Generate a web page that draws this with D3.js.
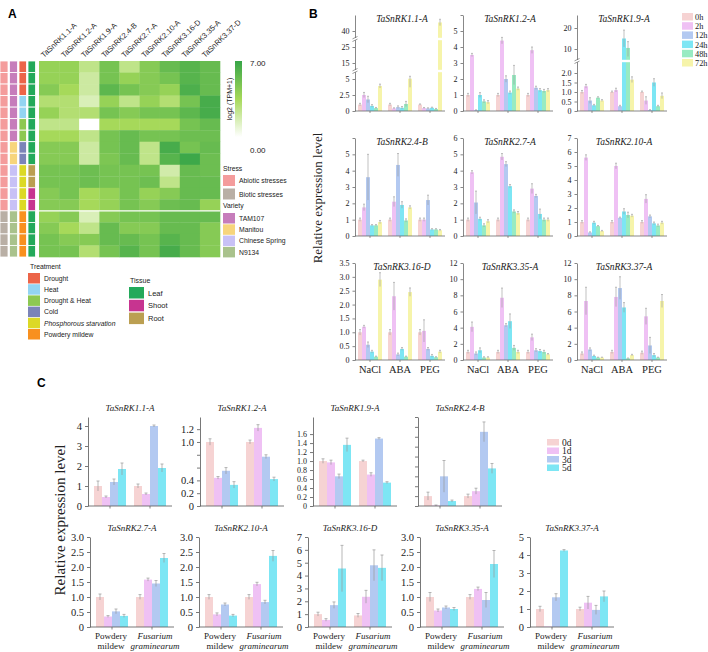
<!DOCTYPE html>
<html><head><meta charset="utf-8">
<script src="https://cdn.jsdelivr.net/npm/d3@7"></script>
<style>body{margin:0;background:#fff}svg{display:block}</style>
</head><body><script>
// ================= DATA =================
// Panel A heatmap
const heatGenes = ["TaSnRK1.1-A","TaSnRK1.2-A","TaSnRK1.9-A","TaSnRK2.4-B","TaSnRK2.7-A","TaSnRK2.10-A","TaSnRK3.16-D","TaSnRK3.35-A","TaSnRK3.37-D"];
const heatValues = [
  [4.0,4.0,2.5,5.0,2.5,4.5,5.5,6.0,5.5],
  [4.0,4.0,2.0,5.0,4.0,4.5,5.0,6.0,5.5],
  [4.5,3.5,2.0,5.8,5.0,4.5,4.0,6.3,5.5],
  [3.0,3.0,1.5,4.0,2.5,4.0,3.0,5.0,6.5],
  [4.0,3.0,3.0,5.0,4.5,5.0,5.0,5.8,6.5],
  [2.5,2.5,0.0,3.5,3.5,3.5,3.5,5.0,5.5],
  [3.5,3.5,2.5,5.0,5.5,5.0,5.0,5.3,5.3],
  [4.5,4.5,2.0,5.0,5.5,2.5,6.5,5.0,5.5],
  [4.5,4.5,2.0,4.8,5.5,2.5,6.0,6.8,5.3],
  [5.0,5.0,5.3,5.0,5.0,5.0,1.8,5.5,5.3],
  [5.0,5.0,5.3,5.0,5.0,5.3,2.5,5.5,5.5],
  [4.5,5.0,3.5,4.0,5.0,4.0,4.5,5.5,5.5],
  [4.5,4.5,3.5,4.0,5.0,4.5,5.3,5.5,4.0],
  [4.0,4.5,1.5,4.5,5.0,5.0,5.5,5.5,5.5],
  [4.5,3.5,2.5,5.5,4.5,4.5,5.5,5.5,4.5],
  [5.0,4.5,4.5,5.5,5.5,5.0,6.0,5.5,4.5],
  [5.0,5.0,3.0,5.0,6.0,5.0,6.5,5.5,4.5]
];
const rowStress = ["Abiotic stresses","Abiotic stresses","Abiotic stresses","Abiotic stresses","Abiotic stresses","Abiotic stresses","Abiotic stresses","Abiotic stresses","Abiotic stresses","Abiotic stresses","Abiotic stresses","Abiotic stresses","Abiotic stresses","Biotic stresses","Biotic stresses","Biotic stresses","Biotic stresses"];
const rowVariety = ["TAM107","TAM107","TAM107","TAM107","TAM107","TAM107","TAM107","Manitou","Manitou","Chinese Spring","Chinese Spring","Chinese Spring","Chinese Spring","N9134","N9134","N9134","N9134"];
const rowTreatment = ["Drought","Drought","Drought","Heat","Heat","Drought & Heat","Drought & Heat","Cold","Cold","Phosphorous starvation","Phosphorous starvation","Phosphorous starvation","Phosphorous starvation","Powdery mildew","Powdery mildew","Powdery mildew","Powdery mildew"];
const rowTissue = ["Leaf","Leaf","Leaf","Leaf","Leaf","Leaf","Leaf","Leaf","Leaf","Root","Root","Shoot","Shoot","Leaf","Leaf","Leaf","Leaf"];
const stressNames = ["Abiotic stresses","Biotic stresses"];
const stressColors = ["#f49c9c","#b9afa5"];
const varietyNames = ["TAM107","Manitou","Chinese Spring","N9134"];
const varietyColors = ["#c67dbb","#f7d57c","#c8c1f6","#a9c28c"];
const treatmentNames = ["Drought","Heat","Drought & Heat","Cold","Phosphorous starvation","Powdery mildew"];
const treatmentColors = ["#ec6448","#93d4f2","#8dc852","#7b84b8","#dcd926","#f8901f"];
const tissueNames = ["Leaf","Shoot","Root"];
const tissueColors = ["#23a95a","#c73490","#bb9f52"];
const heatMin = 0, heatMax = 7;

// Panel B qRT-PCR (abiotic)
const bGenes = ["TaSnRK1.1-A","TaSnRK1.2-A","TaSnRK1.9-A","TaSnRK2.4-B","TaSnRK2.7-A","TaSnRK2.10-A","TaSnRK3.16-D","TaSnRK3.35-A","TaSnRK3.37-A"];
const bConditions = ["NaCl","ABA","PEG"];
const bTimes = ["0h","2h","12h","24h","48h","72h"];
const bValues = [
  [[1.0,2.5,1.8,0.8,0.45,3.9],[1.0,0.4,0.6,0.5,1.1,5.2],[1.0,0.45,0.4,0.5,0.3,48]],
  [[1.0,3.5,0.05,1.0,0.6,0.55],[1.0,4.4,2.0,1.15,2.25,1.4],[1.0,3.8,1.45,1.3,1.25,1.3]],
  [[1.0,1.3,0.55,0.3,0.7,0.55],[1.0,1.1,0.25,15,10.5,1.65],[1.0,0.55,0.05,1.5,0.25,0.8]],
  [[1.0,1.75,3.6,0.65,0.65,0.85],[1.0,2.1,4.35,1.9,0.95,1.75],[1.0,1.0,2.2,0.4,0.4,0.35]],
  [[1.0,3.9,2.05,1.05,0.65,0.9],[1.0,4.85,4.4,3.05,1.5,1.4],[1.0,2.9,2.45,1.35,1.0,1.0]],
  [[1.0,5.6,0.25,0.95,0.7,0.35],[1.0,5.0,1.3,1.75,1.5,1.45],[1.0,2.65,1.4,0.9,0.75,0.95]],
  [[1.0,1.2,0.55,0.3,0.12,2.9],[1.0,2.3,0.2,0.4,0.12,2.45],[1.0,1.05,0.4,0.15,0.1,0.3]],
  [[1.0,4.1,0.8,1.2,0.3,0.3],[1.0,7.7,4.3,4.8,1.5,1.0],[1.0,2.8,1.2,1.1,1.0,0.7]],
  [[0.8,7.3,1.3,0.5,0.3,0.3],[1.0,7.8,8.9,6.5,0.2,0.6],[0.9,5.4,1.8,0.6,0.3,7.3]]
];
const bErrors = [
  [[0.2,0.4,0.5,0.2,0.1,0.3],[0.2,0.1,0.2,0.2,0.4,1.5],[0.1,0.1,0.1,0.1,0.1,3]],
  [[0.1,0.1,0.02,0.15,0.1,0.1],[0.1,0.2,0.2,0.1,0.6,0.1],[0.1,0.2,0.1,0.1,0.1,0.1]],
  [[0.08,0.1,0.15,0.05,0.05,0.05],[0.05,0.1,0.05,4,3,0.15],[0.05,0.2,0.02,0.2,0.05,0.15]],
  [[0.1,0.2,1.4,0.05,0.05,0.1],[0.1,0.3,0.7,0.2,0.1,0.1],[0.1,0.1,0.3,0.05,0.05,0.05]],
  [[0.1,0.1,0.7,0.1,0.1,0.1],[0.1,0.2,0.15,0.1,0.1,0.1],[0.1,0.3,0.1,0.3,0.1,0.1]],
  [[0.1,0.2,0.05,0.1,0.05,0.05],[0.1,0.2,0.05,0.2,0.2,0.1],[0.1,0.3,0.1,0.1,0.1,0.1]],
  [[0.1,0.05,0.1,0.05,0.02,0.25],[0.1,0.5,0.05,0.05,0.02,0.15],[0.1,0.4,0.05,0.05,0.02,0.05]],
  [[0.2,0.6,0.2,0.3,0.1,0.1],[0.2,1.2,0.2,0.9,0.3,0.2],[0.2,0.4,0.2,0.2,0.2,0.1]],
  [[0.2,1.7,0.2,0.1,0.05,0.05],[0.2,1.2,1.4,0.6,0.05,0.1],[0.2,1.0,1.0,0.2,0.05,0.8]]
];
const bTickValues = [
  [0,2.5,5,15,25,40],[0,1,2,3,4,5],[0,0.5,1,1.5,2,10,20],
  [0,1,2,3,4,5],[0,1,2,3,4,5,6],[0,1,2,3,4,5,6,7],
  [0,0.5,1,1.5,2,2.5,3,3.5],[0,2,4,6,8,10,12],[0,2,4,6,8,10,12]
];
const bTickLabels = [
  ["0","2.5","5","15","25","40"],["0","1","2","3","4","5"],["0","0.5","1.0","1.5","2.0","10","20"],
  ["0","1","2","3","4","5"],["0","1","2","3","4","5","6"],["0","1","2","3","4","5","6","7"],
  ["0","0.5","1.0","1.5","2.0","2.5","3.0","3.5"],["0","2","4","6","8","10","12"],["0","2","4","6","8","10","12"]
];
const bAxisMax = [55,6,26,6,6,7,3.5,12,12];
const bBreaks = [[10,32.5],[],[6]];   // values (in piecewise domain) where axis is broken

// Panel C qRT-PCR (biotic)
const cGenes = ["TaSnRK1.1-A","TaSnRK1.2-A","TaSnRK1.9-A","TaSnRK2.4-B","TaSnRK2.7-A","TaSnRK2.10-A","TaSnRK3.16-D","TaSnRK3.35-A","TaSnRK3.37-A"];
const cPathogens = ["Powdery mildew","Fusarium graminearum"];
const cDays = ["0d","1d","3d","5d"];
const cValues = [
  [[1.0,0.45,1.2,1.85],[1.0,0.6,4.0,1.9]],
  [[1.0,0.44,0.55,0.33],[1.0,1.22,0.77,0.42]],
  [[1.0,0.97,0.66,1.36],[1.0,0.7,1.5,0.52]],
  [[1.0,0.05,3.0,0.5],[1.0,1.5,7.5,3.8]],
  [[1.0,0.35,0.52,0.37],[1.0,1.58,1.45,2.3]],
  [[1.0,0.42,0.75,0.38],[1.0,1.43,0.83,2.37]],
  [[1.0,0.55,1.7,4.55],[0.9,2.35,4.8,4.6]],
  [[1.0,0.55,0.65,0.6],[1.0,1.27,0.9,2.1]],
  [[1.0,0.03,1.65,4.25],[1.0,1.35,0.95,1.7]]
];
const cErrors = [
  [[0.25,0.05,0.15,0.3],[0.1,0.05,0.05,0.2]],
  [[0.05,0.02,0.05,0.05],[0.03,0.05,0.03,0.03]],
  [[0.05,0.05,0.05,0.15],[0.02,0.04,0.02,0.02]],
  [[0.4,0.05,1.6,0.1],[0.2,0.3,1.0,0.5]],
  [[0.1,0.03,0.08,0.05],[0.08,0.05,0.1,0.15]],
  [[0.08,0.05,0.05,0.04],[0.08,0.06,0.06,0.18]],
  [[0.15,0.1,0.25,1.8],[0.15,0.5,1.2,1.0]],
  [[0.15,0.05,0.05,0.05],[0.08,0.06,0.25,0.45]],
  [[0.15,0,0.2,0.05],[0.1,0.35,0.25,0.3]]
];
const cTickValues = [
  [0,1,2,3,4],[0,0.2,0.4,0.6,0.8,1.0,1.2],[0,0.2,0.4,0.6,0.8,1.0,1.2,1.4,1.6],
  [0,1,2,3,4,5,6,7,8,9],[0,0.5,1,1.5,2,2.5,3],[0,0.5,1,1.5,2,2.5,3],
  [0,1,2,3,4,5,6,7],[0,0.5,1,1.5,2,2.5,3],[0,1,2,3,4,5]
];
const cTickLabels = [
  ["0","1","2","3","4"],["0","0.2","0.4","","","1.0","1.2"],["0","0.2","0.4","0.6","0.8","1.0","1.2","1.4","1.6"],
  ["","","","","","","","","",""],["0","0.5","1.0","1.5","2.0","2.5","3.0"],["0","0.5","1.0","1.5","2.0","2.5","3.0"],
  ["0","1","2","3","4","5","6","7"],["0","0.5","1.0","1.5","2.0","2.5","3.0"],["0","1","2","3","4","5"]
];
const cAxisMax = [4.45,1.39,1.98,9,3,3,7,3,5];

const bColors = ["#f6d3d3","#efc1f4","#b3c9f1","#7de6f4","#98ebc2","#f6f4aa"];
const cColors = ["#f6d3d3","#efc1f4","#b3c9f1","#7de6f4"];

// ================= LAYOUT / DRAW =================
const SERIF = "'Liberation Serif','Times New Roman',serif";
const SANS = "'Liberation Sans',Arial,sans-serif";
const svg = d3.select("body").append("svg").attr("width",708).attr("height",652)
  .style("font-family",SERIF);

function panelLabel(t,x,y){
  svg.append("text").attr("x",x).attr("y",y).text(t)
    .style("font-family",SANS).style("font-weight","bold").style("font-size","12px");
}
panelLabel("A",8,18); panelLabel("B",309,18); panelLabel("C",37,387);

// ---------- Panel A ----------
const A = svg.append("g").style("font-family",SANS);
const hx = d3.scaleBand().domain(heatGenes).range([39,220]);
const hy = d3.scaleBand().domain(d3.range(heatValues.length)).range([61,257]);
const hcol = d3.scaleLinear().domain([heatMin,(heatMin+heatMax)/2,heatMax]).range(["#ffffff","#a6d95a","#37a548"]);
heatValues.forEach((row,i)=>row.forEach((v,j)=>{
  A.append("rect").attr("x",hx(heatGenes[j])).attr("y",hy(i))
   .attr("width",hx.bandwidth()+0.3).attr("height",hy.bandwidth()+0.3).attr("fill",hcol(v));
}));
A.append("line").attr("x1",39).attr("x2",220).attr("y1",hy(13)).attr("y2",hy(13))
  .attr("stroke","#fff").attr("stroke-width",1.2);
heatGenes.forEach(g=>{
  const cx = hx(g)+hx.bandwidth()/2-5;
  A.append("text").attr("transform",`translate(${cx},58) rotate(-44)`)
   .text(g).style("font-size","7.6px").attr("fill","#222");
});
const annos = [
  {data:rowStress,names:stressNames,colors:stressColors,x:0,w:8},
  {data:rowVariety,names:varietyNames,colors:varietyColors,x:9.5,w:8},
  {data:rowTreatment,names:treatmentNames,colors:treatmentColors,x:19,w:7.5},
  {data:rowTissue,names:tissueNames,colors:tissueColors,x:28,w:7.5}
];
annos.forEach(a=>{
  const sc = d3.scaleOrdinal().domain(a.names).range(a.colors);
  a.data.forEach((d,i)=>{
    A.append("rect").attr("x",a.x).attr("y",hy(i)).attr("width",a.w).attr("height",hy.bandwidth())
     .attr("fill",sc(d)).attr("stroke","#fff").attr("stroke-width",0.8);
  });
});
// gradient legend
const grad = svg.append("defs").append("linearGradient").attr("id","hg")
  .attr("x1",0).attr("x2",0).attr("y1",1).attr("y2",0);
[0,0.5,1].forEach(t=>grad.append("stop").attr("offset",t).attr("stop-color",hcol(heatMin+t*(heatMax-heatMin))));
A.append("rect").attr("x",235).attr("y",61).attr("width",7).attr("height",76).attr("fill","url(#hg)");
A.append("text").attr("x",250).attr("y",66).text(heatMax.toFixed(2)).style("font-size","8px").attr("fill","#222");
A.append("text").attr("x",250).attr("y",153).text(heatMin.toFixed(2)).style("font-size","8px").attr("fill","#222");
A.append("text").attr("transform","translate(232,99) rotate(-90)").attr("text-anchor","middle")
  .text("log2 (TPM+1)").style("font-size","7px").attr("fill","#222");

function legendBlock(title,names,colors,x,ty,y0,step,sw,sh,italicIdx){
  A.append("text").attr("x",x+(title==="Treatment"?2:0)).attr("y",ty).text(title).style("font-size","6.8px").attr("fill","#222");
  names.forEach((n,i)=>{
    const y = y0+i*step;
    A.append("rect").attr("x",x).attr("y",y).attr("width",sw).attr("height",sh).attr("fill",colors[i]);
    A.append("text").attr("x",x+sw+4).attr("y",y+sh/2+2.5).text(n)
     .style("font-size","6.8px").style("font-style",i===italicIdx?"italic":"normal").attr("fill","#222");
  });
}
legendBlock("Stress",stressNames,stressColors,223,171,175,13.5,12,11,-1);
legendBlock("Variety",varietyNames,varietyColors,223,208,213,11.3,12,10.5,-1);
legendBlock("Treatment",treatmentNames,treatmentColors,28,269,273,11.2,12,10.5,4);
A.append("text").attr("x",130).attr("y",283).text("Tissue").style("font-size","7px").attr("fill","#222");
tissueNames.forEach((n,i)=>{
  const y=287+i*12.8;
  A.append("rect").attr("x",129).attr("y",y).attr("width",15).attr("height",11.5).attr("fill",tissueColors[i]);
  A.append("text").attr("x",148).attr("y",y+8.5).text(n).style("font-size","7.5px").attr("fill","#222");
});

// ---------- Panel B ----------
const bColX = [355,463,577], bW = 90;
const bRowZero = [111,236,360], bRowTop = [15,138,263];
const bDomains = [
  [0,2.5,5,15,25,40,55],[0,6],[0,0.5,1,1.5,2,10,20,26],[0,6],[0,6],[0,7],[0,3.5],[0,12],[0,12]
];
const bFracs = [
  [0,1,2,3,4,5,6].map(v=>v/6),[0,1],[0,9.5,19,28.5,38,62,83,96].map(v=>v/96),[0,1],[0,1],[0,1],[0,1],[0,1],[0,1]
];
const B = svg.append("g");
bGenes.forEach((gene,gi)=>{
  const col = gi%3, row = Math.floor(gi/3);
  const x0 = bColX[col], y0 = bRowZero[row], yT = bRowTop[row];
  const y = d3.scaleLinear().domain(bDomains[gi]).range(bFracs[gi].map(f=>y0-f*(y0-yT)));
  const xg = d3.scaleBand().domain(bConditions).range([x0,x0+bW]).paddingInner(0.2).paddingOuter(0.1);
  const xs = d3.scaleBand().domain(bTimes).range([0,xg.bandwidth()]);
  const g = B.append("g");
  bConditions.forEach((c,ci)=>{
    bTimes.forEach((t,ti)=>{
      const v = bValues[gi][ci][ti], e = bErrors[gi][ci][ti];
      const bx = xg(c)+xs(t);
      g.append("rect").attr("x",bx).attr("y",y(v)).attr("width",xs.bandwidth()).attr("height",y0-y(v)).attr("fill",bColors[ti]);
      const cx = bx+xs.bandwidth()/2;
      g.append("line").attr("x1",cx).attr("x2",cx).attr("y1",y(Math.max(0,v-e))).attr("y2",y(v+e)).attr("stroke","#999").attr("stroke-width",0.6);
      g.append("line").attr("x1",cx-1).attr("x2",cx+1).attr("y1",y(v+e)).attr("y2",y(v+e)).attr("stroke","#999").attr("stroke-width",0.6);
    });
  });
  // axis
  const labels = bTickLabels[gi];
  const ticks = bTickValues[gi].slice();
  if(bDomains[gi].length===2 && ticks[ticks.length-1]<bAxisMax[gi]) ticks.push(bAxisMax[gi]);
  const ax = d3.axisLeft(y).tickValues(ticks).tickSize(2.5).tickSizeOuter(0).tickPadding(3)
    .tickFormat((d,i)=> i<labels.length?labels[i]:"");
  const ag = g.append("g").attr("transform",`translate(${x0},0)`).call(ax);
  ag.selectAll("path,line").attr("stroke","#555").attr("stroke-width",0.7);
  ag.selectAll("text").style("font-family",SERIF).style("font-size","8px").attr("fill","#222");
  // breaks
  (bBreaks[gi]||[]).forEach(bv=>{
    const by = y(bv);
    g.append("rect").attr("x",x0-4).attr("y",by-1.2).attr("width",bW+4).attr("height",2.4).attr("fill","#fff");
    [-1.3,1.3].forEach(o=>g.append("line").attr("x1",x0-2.5).attr("x2",x0+2.5).attr("y1",by+o+1.2).attr("y2",by+o-1.2)
      .attr("stroke","#555").attr("stroke-width",0.6));
  });
  // x axis
  g.append("line").attr("x1",x0).attr("x2",x0+bW).attr("y1",y0).attr("y2",y0).attr("stroke","#555").attr("stroke-width",0.7);
  bConditions.forEach(c=>{
    const cx = xg(c)+xg.bandwidth()/2;
    g.append("line").attr("x1",cx).attr("x2",cx).attr("y1",y0).attr("y2",y0+2).attr("stroke","#555").attr("stroke-width",0.6);
    if(row===2) g.append("text").attr("x",cx).attr("y",y0+13).attr("text-anchor","middle").text(c).style("font-size","10.5px").attr("fill","#222");
  });
  g.append("text").attr("x",x0+bW/2+2).attr("y",yT+7).attr("text-anchor","middle").text(gene)
    .style("font-style","italic").style("font-size","9.5px").attr("fill","#222");
});
B.append("text").attr("transform","translate(322,198) rotate(-90)").attr("text-anchor","middle")
  .text("Relative expression level").style("font-size","13px").attr("fill","#222");
bTimes.forEach((t,i)=>{
  const y = 13+i*9.2;
  B.append("rect").attr("x",682).attr("y",y).attr("width",11).attr("height",7.5).attr("fill",bColors[i]);
  B.append("text").attr("x",695).attr("y",y+7).text(t).style("font-size","8.3px").attr("fill","#222");
});

// ---------- Panel C ----------
const cAxisX = [88,200,313,418,90,199,308,420,530], cW = 84;
const cRowZero = [506,627], cRowTop = [417,537];
const C = svg.append("g");
cGenes.forEach((gene,gi)=>{
  const row = gi<4?0:1;
  const x0 = cAxisX[gi], y0 = cRowZero[row], yT = cRowTop[row];
  const y = d3.scaleLinear().domain([0,cAxisMax[gi]]).range([y0,yT]);
  const xg = d3.scaleBand().domain(cPathogens).range([x0,x0+cW]).paddingInner(0.2).paddingOuter(0.15);
  const xs = d3.scaleBand().domain(cDays).range([0,xg.bandwidth()]);
  const g = C.append("g");
  cPathogens.forEach((p,pi)=>{
    cDays.forEach((d,di)=>{
      const v = cValues[gi][pi][di], e = cErrors[gi][pi][di];
      const bx = xg(p)+xs(d);
      g.append("rect").attr("x",bx).attr("y",y(v)).attr("width",xs.bandwidth()).attr("height",y0-y(v)).attr("fill",cColors[di]);
      if(e>0){
        const cx = bx+xs.bandwidth()/2;
        g.append("line").attr("x1",cx).attr("x2",cx).attr("y1",y(Math.max(0,v-e))).attr("y2",y(v+e)).attr("stroke","#999").attr("stroke-width",0.7);
        g.append("line").attr("x1",cx-1.5).attr("x2",cx+1.5).attr("y1",y(v+e)).attr("y2",y(v+e)).attr("stroke","#999").attr("stroke-width",0.7);
      }
    });
  });
  const labels = cTickLabels[gi];
  const tickStep = Math.abs(y(cTickValues[gi][1])-y(cTickValues[gi][0]));
  const ax = d3.axisLeft(y).tickValues(cTickValues[gi]).tickSize(3).tickSizeOuter(0).tickPadding(3)
    .tickFormat((d,i)=>labels[i]);
  const ag = g.append("g").attr("transform",`translate(${x0},0)`).call(ax);
  ag.selectAll("path,line").attr("stroke","#555").attr("stroke-width",0.8);
  ag.selectAll("text").style("font-family",SERIF).style("font-size",tickStep<10?"8px":"10.5px").attr("fill","#222");
  g.append("line").attr("x1",x0).attr("x2",x0+cW).attr("y1",y0).attr("y2",y0).attr("stroke","#555").attr("stroke-width",0.8);
  cPathogens.forEach((p,pi)=>{
    const cx = xg(p)+xg.bandwidth()/2;
    g.append("line").attr("x1",cx).attr("x2",cx).attr("y1",y0).attr("y2",y0+2.5).attr("stroke","#555").attr("stroke-width",0.7);
    if(row===1){
      const parts = p.split(" ");
      parts.forEach((w,wi)=>{
        g.append("text").attr("x",cx+(pi===1?3:-1)).attr("y",y0+12+wi*10).attr("text-anchor","middle").text(w)
         .style("font-size","9px").style("font-style",pi===1?"italic":"normal").attr("fill","#222");
      });
    }
  });
  g.append("text").attr("x",x0+cW/2).attr("y",yT-6).attr("text-anchor","middle").text(gene)
    .style("font-style","italic").style("font-size","9px").attr("fill","#222");
});
C.append("text").attr("transform","translate(65,520) rotate(-90)").attr("text-anchor","middle")
  .text("Relative expression level").style("font-size","15px").attr("fill","#222");
cDays.forEach((d,i)=>{
  const y = 439+i*8.5;
  C.append("rect").attr("x",547).attr("y",y).attr("width",12).attr("height",6.5).attr("fill",cColors[i]);
  C.append("text").attr("x",562).attr("y",y+6.5).text(d).style("font-size","9.5px").attr("fill","#222");
});
</script></body></html>
